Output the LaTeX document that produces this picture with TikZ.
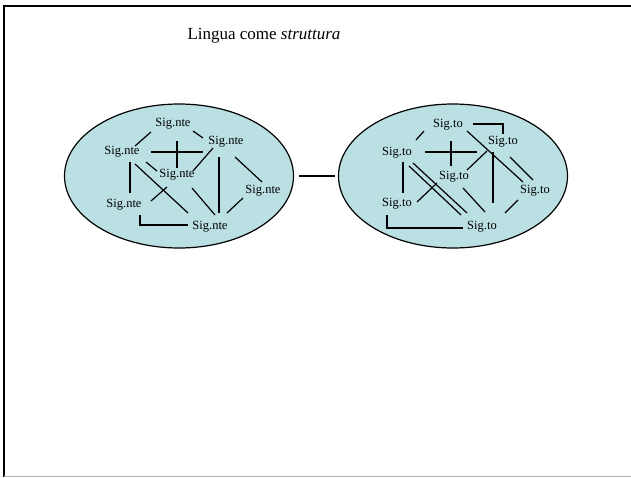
\documentclass[tikz,border=0pt]{standalone}
\usepackage{fontspec}
\setmainfont{Liberation Serif}
\usepackage{tikz}
\usetikzlibrary{calc}
\usetikzlibrary{shapes.geometric}
\definecolor{acqua}{RGB}{187,224,228}

\begin{document}
\begin{tikzpicture}[x=1pt, y=-1pt, line width=1.2pt,
		sig/.style={font=\fontsize{12.5}{14}\selectfont, inner sep=0pt},
		blob/.style={draw, ellipse, fill=acqua, inner sep=0pt, minimum width=229pt, minimum height=144pt}]
	\useasboundingbox (0,0) rectangle (631,477);
	% slide frame
	\draw[line width=2.5pt] (4,477) -- (4,6) -- (631,6);
	\draw[line width=.6pt, black!30] (4,476.5) -- (631,476.5);
	\node[font=\fontsize{17}{20}\selectfont] (titolo) at (264,36) {Lingua come \textit{struttura}};

	\node[blob] (lhs) at (179,176) {};
	\node[blob] (rhs) at (453,176) {};
	\draw[shorten <=5pt, shorten >=3pt] (lhs.east) -- (rhs.west);

	% significanti
	\node[sig] (n1) at (173,124) {Sig.nte};
	\node[sig] (n2) at (226,142) {Sig.nte};
	\node[sig] (n3) at (122,152) {Sig.nte};
	\node[sig] (n4) at (177,175) {Sig.nte};
	\node[sig] (n5) at (263,191) {Sig.nte};
	\node[sig] (n6) at (124,205) {Sig.nte};
	\node[sig] (n7) at (210,227) {Sig.nte};
	\draw ($(n3)+(13,-6)$) -- ($(n1)+(-22,8)$);
	\draw ($(n1)+(20,7)$) -- ($(n2)+(-23,-4)$);
	\draw ($(n3)+(29,0)$) -- ($(n2)+(-23,10)$);
	\draw ($(n1)+(4,17)$) -- ($(n4)+(0,-7)$);
	\draw ($(n3)+(8,10)$) -- ($(n6)+(6,-12)$);
	\draw ($(n3)+(24,10)$) -- ($(n4)+(-20,-4)$);
	\draw ($(n3)+(13,12)$) -- ($(n7)+(-22,-14)$);
	\draw ($(n2)+(-13,6)$) -- ($(n4)+(16,-4)$);
	\draw ($(n2)+(-7,15)$) -- ($(n7)+(9,-14)$);
	\draw ($(n2)+(9,15)$) -- ($(n5)+(-1,-9)$);
	\draw ($(n4)+(-10,12)$) -- ($(n6)+(27,-4)$);
	\draw ($(n4)+(15,13)$) -- ($(n7)+(5,-12)$);
	\draw ($(n5)+(-20,7)$) -- ($(n7)+(17,-14)$);
	\draw ($(n6)+(16,10)$) |- ($(n7)+(-22,-2)$);

	% significati
	\node[sig] (t1) at (448,125) {Sig.to};
	\node[sig] (t2) at (503,142) {Sig.to};
	\node[sig] (t3) at (397,153) {Sig.to};
	\node[sig] (t4) at (454,177) {Sig.to};
	\node[sig] (t5) at (535,191) {Sig.to};
	\node[sig] (t6) at (397,204) {Sig.to};
	\node[sig] (t7) at (482,227) {Sig.to};
	\draw ($(t3)+(19,-13)$) -- ($(t1)+(-24,6)$);
	\draw ($(t1)+(25,-1)$) -| ($(t2)+(0,-8)$);
	\draw ($(t1)+(19,6)$) -- ($(t5)+(-12,-9)$);
	\draw ($(t3)+(28,-1)$) -- ($(t2)+(-26,10)$);
	\draw ($(t1)+(3,16)$) -- ($(t4)+(-3,-11)$);
	\draw ($(t3)+(6,9)$) -- ($(t6)+(6,-11)$);
	\draw ($(t3)+(12,13)$) -- ($(t7)+(-21,-12)$);
	\draw ($(t3)+(16,10)$) -- ($(t7)+(-15,-14)$);
	\draw ($(t2)+(-16,9)$) -- ($(t4)+(13,-7)$);
	\draw ($(t4)+(-17,6)$) -- ($(t6)+(20,-2)$);
	\draw ($(t2)+(-10,10)$) -- ($(t7)+(11,-24)$);
	\draw ($(t2)+(7,15)$) -- ($(t5)+(-2,-11)$);
	\draw ($(t4)+(9,11)$) -- ($(t7)+(3,-15)$);
	\draw ($(t5)+(-17,9)$) -- ($(t7)+(23,-14)$);
	\draw ($(t6)+(-10,11)$) |- ($(t7)+(-19,1)$);
\end{tikzpicture}
\end{document}
